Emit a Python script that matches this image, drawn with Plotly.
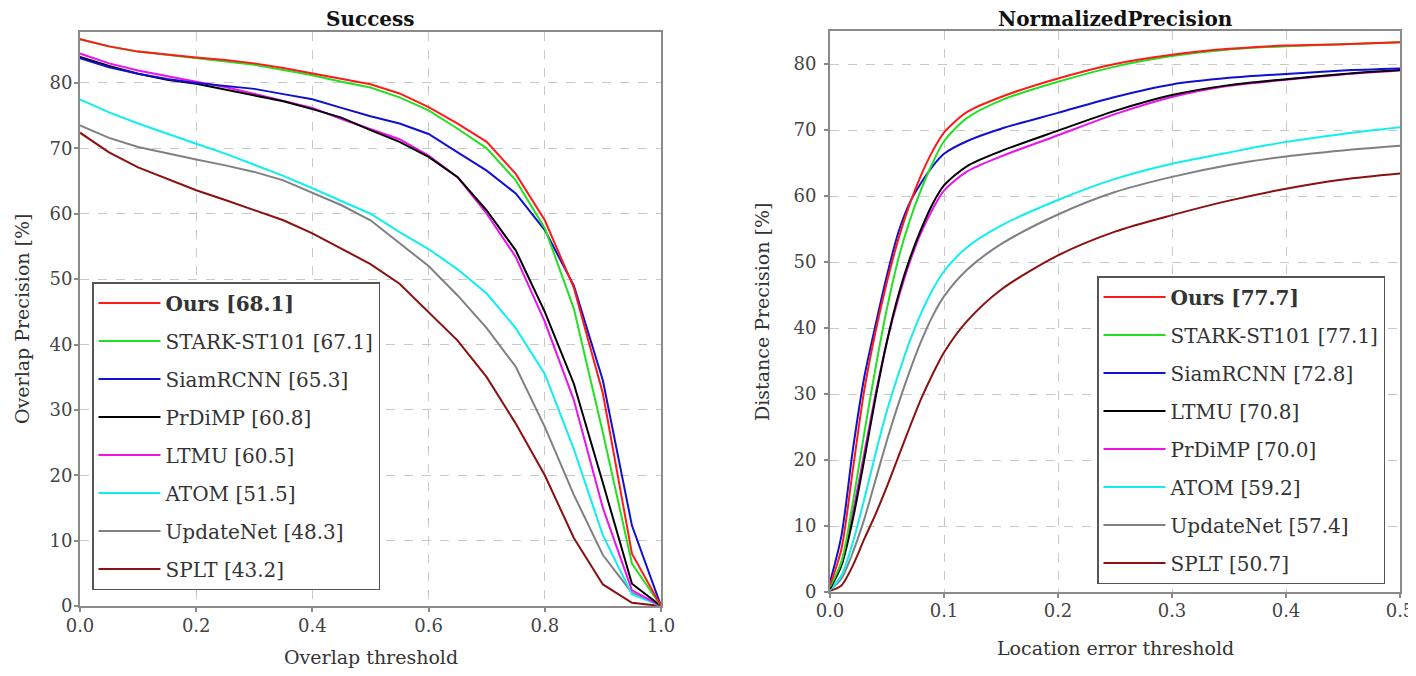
import plotly.graph_objects as go

# ---------------- data ----------------
succ_x = [0.0, 0.05, 0.1, 0.15, 0.2, 0.25, 0.3, 0.35, 0.4, 0.45, 0.5,
          0.55, 0.6, 0.65, 0.7, 0.75, 0.8, 0.85, 0.9, 0.95, 1.0]
succ_names = ["<b>Ours [68.1]</b>", "STARK-ST101 [67.1]", "SiamRCNN [65.3]", "PrDiMP [60.8]",
              "LTMU [60.5]", "ATOM [51.5]", "UpdateNet [48.3]", "SPLT [43.2]"]
succ_ours = [86.7, 85.6, 84.8, 84.3, 83.9, 83.5, 83.0, 82.3, 81.5, 80.7, 79.8,
             78.4, 76.3, 73.8, 71.0, 66.1, 59.0, 48.7, 32.5, 8.0, 0.0]
succ_stark = [86.7, 85.6, 84.8, 84.3, 83.9, 83.4, 82.8, 82.0, 81.2, 80.2, 79.3,
              77.8, 75.8, 73.0, 70.0, 65.1, 57.8, 45.5, 26.5, 6.5, 0.0]
succ_siam = [83.8, 82.4, 81.4, 80.6, 80.0, 79.6, 79.1, 78.3, 77.5, 76.2, 74.9,
             73.8, 72.2, 69.4, 66.6, 63.1, 57.5, 49.0, 34.5, 12.3, 0.0]
succ_prdimp = [84.0, 82.6, 81.4, 80.5, 79.9, 79.0, 78.1, 77.2, 76.0, 74.7, 72.8,
               71.0, 68.7, 65.6, 60.5, 54.4, 45.0, 34.0, 18.8, 3.4, 0.0]
succ_ltmu = [84.5, 83.0, 81.9, 81.0, 80.2, 79.4, 78.3, 77.3, 76.2, 74.5, 73.0,
             71.4, 68.9, 65.6, 60.0, 53.4, 43.5, 31.5, 15.0, 2.4, 0.0]
succ_atom = [77.5, 75.5, 73.8, 72.2, 70.7, 69.2, 67.5, 65.8, 63.9, 62.0, 60.0,
             57.2, 54.6, 51.5, 47.8, 42.5, 35.5, 24.0, 10.8, 1.8, 0.0]
succ_update = [73.5, 71.6, 70.2, 69.2, 68.3, 67.4, 66.4, 65.1, 63.2, 61.3, 59.0,
               55.5, 52.0, 47.5, 42.5, 36.6, 27.4, 17.0, 7.8, 2.0, 0.0]
succ_splt = [72.4, 69.4, 67.1, 65.3, 63.6, 62.1, 60.6, 59.0, 57.0, 54.7, 52.3,
             49.3, 45.0, 40.6, 35.0, 27.9, 20.0, 10.4, 3.3, 0.5, 0.0]

prec_x = [0.0, 0.01, 0.02, 0.03, 0.04, 0.05, 0.06, 0.07, 0.08, 0.09, 0.1,
          0.12, 0.15, 0.2, 0.25, 0.3, 0.35, 0.4, 0.45, 0.5]
prec_names = ["<b>Ours [77.7]</b>", "STARK-ST101 [77.1]", "SiamRCNN [72.8]", "LTMU [70.8]",
              "PrDiMP [70.0]", "ATOM [59.2]", "UpdateNet [57.4]", "SPLT [50.7]"]
prec_ours = [1.0, 6.5, 18.5, 30.5, 39.5, 47.0, 53.5, 58.8, 63.2, 66.8, 69.6,
             72.7, 75.0, 77.8, 80.0, 81.4, 82.3, 82.8, 83.0, 83.3]
prec_stark = [0.8, 4.5, 13.5, 24.0, 34.0, 43.0, 50.5, 56.3, 61.0, 65.0, 68.3,
              71.8, 74.5, 77.3, 79.6, 81.2, 82.2, 82.7, 83.0, 83.3]
prec_siam = [1.5, 8.5, 21.5, 32.5, 40.5, 48.0, 54.5, 59.0, 62.0, 64.5, 66.4,
             68.3, 70.2, 72.6, 75.0, 76.9, 77.9, 78.5, 79.0, 79.3]
prec_ltmu = [0.5, 4.0, 11.0, 20.0, 29.5, 38.0, 45.0, 50.5, 55.0, 58.8, 61.6,
             64.5, 66.8, 69.9, 72.9, 75.3, 76.8, 77.7, 78.5, 79.1]
prec_prdimp = [0.5, 4.5, 12.0, 21.0, 30.0, 38.0, 44.5, 50.0, 54.5, 58.0, 60.8,
               63.7, 66.0, 69.2, 72.4, 75.0, 76.7, 77.6, 78.4, 79.0]
prec_atom = [0.3, 2.5, 7.5, 14.0, 21.0, 27.5, 33.0, 38.0, 42.3, 45.8, 48.6,
             52.2, 55.5, 59.4, 62.6, 64.9, 66.6, 68.2, 69.4, 70.4]
prec_update = [0.3, 2.0, 6.0, 11.0, 17.0, 23.0, 28.5, 33.5, 38.0, 41.8, 44.8,
               48.8, 52.7, 57.2, 60.6, 62.9, 64.7, 66.0, 66.9, 67.6]
prec_splt = [0.2, 1.0, 4.0, 8.0, 11.8, 16.0, 20.5, 25.0, 29.3, 33.0, 36.3,
             41.0, 45.8, 51.0, 54.6, 57.1, 59.3, 61.1, 62.5, 63.4]

colors = ["#ff1a1a", "#22e022", "#1010d0", "#000000", "#ee10ee", "#10eeee", "#808080", "#8b1010"]

succ_series = [succ_ours, succ_stark, succ_siam, succ_prdimp, succ_ltmu, succ_atom, succ_update, succ_splt]
prec_series = [prec_ours, prec_stark, prec_siam, prec_ltmu, prec_prdimp, prec_atom, prec_update, prec_splt]

FONT = "DejaVu Serif"
# page has an 8px body margin: figure is offset by 8px on screen
OFF = 8
W, H = 1408, 660

fig = go.Figure()

# draw in reverse so "Ours" lies on top; legend order via legendrank
for i in reversed(range(8)):
    fig.add_trace(go.Scatter(
        x=succ_x, y=succ_series[i], mode="lines", name=succ_names[i],
        line=dict(color=colors[i], width=2), xaxis="x", yaxis="y",
        legend="legend", legendgroup="s%d" % i, legendrank=i + 1))
for i in reversed(range(8)):
    fig.add_trace(go.Scatter(
        x=prec_x, y=prec_series[i], mode="lines", name=prec_names[i],
        line=dict(color=colors[i], width=2, shape="spline", smoothing=0.8),
        xaxis="x2", yaxis="y2",
        legend="legend2", legendgroup="p%d" % i, legendrank=i + 1))

# plot area boxes in screen pixels (left, right, top, bottom)
L1 = (80, 661, 32, 606)
L2 = (830, 1400, 31, 592)

def px(x):
    return (x - OFF) / W

def py(y):
    return (H - (y - OFF)) / H

def dom_x(b):
    return [px(b[0]), px(b[1])]

def dom_y(b):
    return [py(b[3]), py(b[2])]

axis_common = dict(
    showline=True, linecolor="#8a8a8a", linewidth=2, mirror=True, automargin=False,
    ticks="outside", ticklen=4, tickwidth=1.5, tickcolor="#8a8a8a",
    showgrid=True, gridcolor="#c8c8c8", griddash="dash", gridwidth=1,
    zeroline=False, tickfont=dict(family=FONT, size=18, color="#444444"),
)

legend_common = dict(
    xanchor="left", yanchor="top",
    bgcolor="white", bordercolor="#555555", borderwidth=1.5,
    font=dict(family=FONT, size=20, color="#333333"),
    tracegroupgap=9, traceorder="grouped", itemwidth=62,
)

fig.update_layout(
    width=W, height=H,
    margin=dict(l=0, r=0, t=0, b=0, autoexpand=False),
    paper_bgcolor="white", plot_bgcolor="white",
    font=dict(family=FONT, color="#333333"),
    xaxis=dict(domain=dom_x(L1), range=[0, 1], anchor="y", ticklabelstandoff=-2,
               tickvals=[0, 0.2, 0.4, 0.6, 0.8, 1.0], tickformat=".1f", **axis_common),
    yaxis=dict(domain=dom_y(L1), range=[0, 87.8], anchor="x", ticklabelstandoff=-2,
               tickvals=[0, 10, 20, 30, 40, 50, 60, 70, 80], **axis_common),
    xaxis2=dict(domain=dom_x(L2), range=[0, 0.5], anchor="y2", ticklabelstandoff=-3,
                tickvals=[0, 0.1, 0.2, 0.3, 0.4, 0.5], tickformat=".1f", **axis_common),
    yaxis2=dict(domain=dom_y(L2), range=[0, 85], anchor="x2", ticklabelstandoff=4,
                tickvals=[0, 10, 20, 30, 40, 50, 60, 70, 80], **axis_common),
    legend=dict(x=px(92), y=py(282), **legend_common),
    legend2=dict(x=px(1097), y=py(276), **legend_common),
    showlegend=True,
)

def text_ann(text, x, y, size, color="#333333", angle=0):
    return dict(text=text, x=px(x), y=py(y), xref="paper", yref="paper",
                xanchor="center", yanchor="middle", showarrow=False, textangle=angle,
                font=dict(family=FONT, size=size, color=color))

ann = [
    text_ann("<b>Success</b>", (L1[0] + L1[1]) / 2, 19, 20, "#111111"),
    text_ann("<b>NormalizedPrecision</b>", (L2[0] + L2[1]) / 2, 19, 20, "#111111"),
    text_ann("Overlap threshold", (L1[0] + L1[1]) / 2, 657, 19),
    text_ann("Location error threshold", (L2[0] + L2[1]) / 2, 648, 19),
    text_ann("Overlap Precision [%]", 22, 319, 19, angle=-90),
    text_ann("Distance Precision [%]", 762, 312, 19, angle=-90),
]
fig.update_layout(annotations=ann)

fig.write_html("out.html")
